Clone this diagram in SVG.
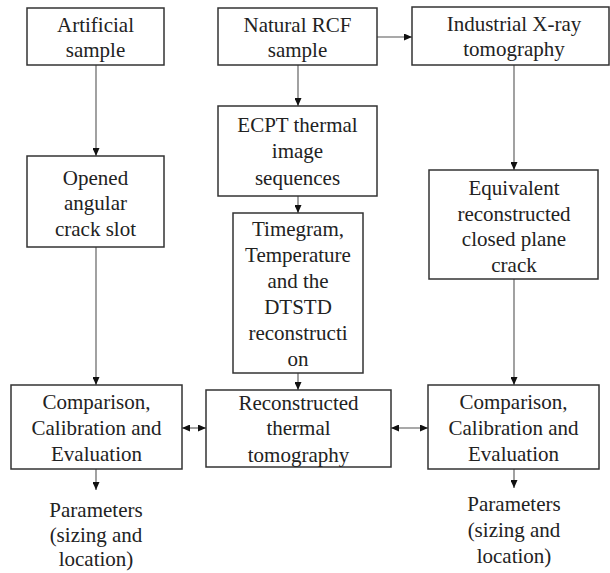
<svg xmlns="http://www.w3.org/2000/svg" width="610" height="573" viewBox="0 0 610 573">
<style>
.box{fill:#fff;stroke:#333;stroke-width:1.5}
.t{font-size:21px;fill:#222;text-anchor:middle}
.c{stroke:#555;stroke-width:1.1;fill:none}
</style>
<defs>
<marker id="ah" viewBox="0 0 8 7" refX="8" refY="3.5" markerWidth="8" markerHeight="7" markerUnits="userSpaceOnUse" orient="auto-start-reverse">
<path d="M0,0 L8,3.5 L0,7 z" fill="#111"/>
</marker>
</defs>
<rect width="610" height="573" fill="#fff"/>
<g id="connectors">
<line class="c" x1="96" y1="65" x2="96" y2="156" marker-end="url(#ah)"/>
<line class="c" x1="377" y1="37" x2="412" y2="37" marker-end="url(#ah)"/>
<line class="c" x1="298" y1="65" x2="298" y2="106" marker-end="url(#ah)"/>
<line class="c" x1="514" y1="65" x2="514" y2="170" marker-end="url(#ah)"/>
<line class="c" x1="298" y1="196" x2="298" y2="213" marker-end="url(#ah)"/>
<line class="c" x1="96" y1="247" x2="96" y2="385" marker-end="url(#ah)"/>
<line class="c" x1="298" y1="373" x2="298" y2="390" marker-end="url(#ah)"/>
<line class="c" x1="514" y1="279" x2="514" y2="385" marker-end="url(#ah)"/>
<line class="c" x1="182" y1="428" x2="206" y2="428" marker-start="url(#ah)" marker-end="url(#ah)"/>
<line class="c" x1="391" y1="428" x2="428" y2="428" marker-start="url(#ah)" marker-end="url(#ah)"/>
<line class="c" x1="96" y1="469" x2="96" y2="490" marker-end="url(#ah)"/>
<line class="c" x1="514" y1="469" x2="514" y2="488" marker-end="url(#ah)"/>
</g>
<g id="nodes" font-family="Liberation Serif, serif">
<g id="artificial">
<rect class="box" x="27" y="8" width="137" height="57"/>
<text class="t" x="95.5" y="32">Artificial</text>
<text class="t" x="95.5" y="57">sample</text>
</g>
<g id="natural">
<rect class="box" x="218" y="8" width="159" height="57"/>
<text class="t" x="297.5" y="32">Natural RCF</text>
<text class="t" x="297.5" y="57">sample</text>
</g>
<g id="xray">
<rect class="box" x="412" y="7" width="197" height="58"/>
<text class="t" x="514" y="31">Industrial X-ray</text>
<text class="t" x="514" y="56">tomography</text>
</g>
<g id="ecpt">
<rect class="box" x="218" y="106" width="159" height="90"/>
<text class="t" x="297.5" y="132">ECPT thermal</text>
<text class="t" x="297.5" y="158">image</text>
<text class="t" x="297.5" y="185">sequences</text>
</g>
<g id="opened">
<rect class="box" x="27" y="156" width="137" height="91"/>
<text class="t" x="95.5" y="185">Opened</text>
<text class="t" x="95.5" y="210">angular</text>
<text class="t" x="95.5" y="236">crack slot</text>
</g>
<g id="timegram">
<rect class="box" x="233" y="213" width="130" height="160"/>
<text class="t" x="298" y="236">Timegram,</text>
<text class="t" x="298" y="262">Temperature</text>
<text class="t" x="298" y="288">and the</text>
<text class="t" x="298" y="314">DTSTD</text>
<text class="t" x="298" y="340">reconstructi</text>
<text class="t" x="298" y="366">on</text>
</g>
<g id="equivalent">
<rect class="box" x="429" y="170" width="169" height="109"/>
<text class="t" x="514" y="195">Equivalent</text>
<text class="t" x="514" y="221">reconstructed</text>
<text class="t" x="514" y="246">closed plane</text>
<text class="t" x="514" y="272">crack</text>
</g>
<g id="compare-left">
<rect class="box" x="11" y="385" width="171" height="84"/>
<text class="t" x="96.5" y="409">Comparison,</text>
<text class="t" x="96.5" y="435">Calibration and</text>
<text class="t" x="96.5" y="461">Evaluation</text>
</g>
<g id="reconstructed">
<rect class="box" x="206" y="390" width="185" height="77"/>
<text class="t" x="298.5" y="410">Reconstructed</text>
<text class="t" x="298.5" y="435">thermal</text>
<text class="t" x="298.5" y="462">tomography</text>
</g>
<g id="compare-right">
<rect class="box" x="428" y="385" width="171" height="84"/>
<text class="t" x="513.5" y="409">Comparison,</text>
<text class="t" x="513.5" y="435">Calibration and</text>
<text class="t" x="513.5" y="461">Evaluation</text>
</g>
<g id="params-left">
<text class="t" x="96" y="517">Parameters</text>
<text class="t" x="96" y="542">(sizing and</text>
<text class="t" x="96" y="566">location)</text>
</g>
<g id="params-right">
<text class="t" x="514" y="511">Parameters</text>
<text class="t" x="514" y="537">(sizing and</text>
<text class="t" x="514" y="563">location)</text>
</g>
</g>
</svg>
